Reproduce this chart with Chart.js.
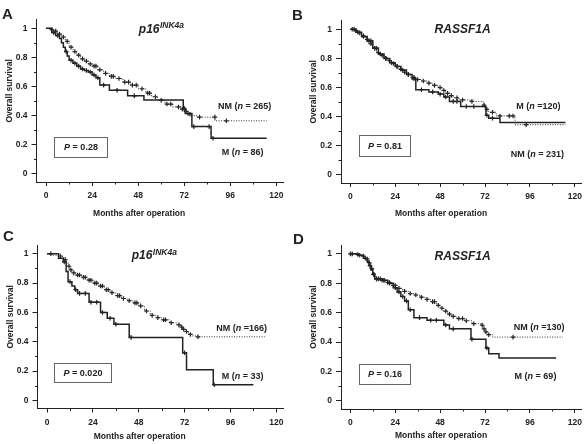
<!DOCTYPE html>
<html>
<head>
<meta charset="utf-8">
<title>Overall survival by methylation status</title>
<script src="https://cdn.jsdelivr.net/npm/chart.js@4.4.1/dist/chart.umd.min.js"></script>
<style>
  body { margin: 0; background: #fff; }
  #fig { position: relative; width: 587px; height: 444px; }
  #fig canvas { position: absolute; }
</style>
</head>
<body>
<div id="fig">
  <canvas id="pA" width="290" height="222" style="left:0;top:0"></canvas>
  <canvas id="pB" width="297" height="222" style="left:290px;top:0"></canvas>
  <canvas id="pC" width="290" height="222" style="left:0;top:222px"></canvas>
  <canvas id="pD" width="297" height="222" style="left:290px;top:222px"></canvas>
</div>
<script>
// ticks
const monthTicks = [0, 24, 48, 72, 96, 120];
const monthMinor = [12, 36, 60, 84, 108];
const survTicks = [0, 0.2, 0.4, 0.6, 0.8, 1];
const survMinor = [0.1, 0.3, 0.5, 0.7, 0.9];

// A - p16INK4a, all patients  [month, survival]
const aNM = [[0,1],[2,0.99],[4,0.98],[6,0.96],[8,0.94],[10,0.91],[12,0.87],[14,0.84],[16,0.815],[18,0.79],[20,0.775],[22,0.755],[24,0.74],[27,0.715],[30,0.69],[33,0.67],[36,0.655],[40,0.63],[44,0.61],[48,0.585],[52,0.555],[55,0.53],[58,0.505],[62,0.48],[66,0.46],[70,0.445],[72,0.43],[74,0.41],[76,0.4],[79,0.39],[88,0.365],[115,0.365]];
const aNMcens = [[3,0.99],[5,0.98],[7,0.96],[9,0.94],[11,0.91],[13,0.87],[15,0.84],[17,0.815],[19,0.79],[21,0.775],[23,0.755],[25,0.74],[26,0.74],[28,0.715],[31,0.69],[34,0.67],[35,0.67],[38,0.655],[41,0.63],[43,0.63],[45,0.61],[47,0.61],[50,0.585],[53,0.555],[54,0.555],[57,0.53],[60,0.505],[63,0.48],[65,0.48],[69,0.46],[71,0.445],[73,0.43],[75,0.41],[80,0.39],[88,0.39],[94,0.365]];
const aM = [[0,1],[3,0.97],[5,0.95],[7,0.93],[8,0.9],[9,0.87],[10,0.84],[11,0.81],[12,0.78],[14,0.76],[16,0.74],[18,0.72],[20,0.71],[22,0.7],[24,0.68],[26,0.66],[28,0.61],[33,0.575],[42.5,0.536],[51,0.507],[71.5,0.45],[72.5,0.415],[76,0.325],[86,0.245],[115,0.245]];
const aMcens = [[4,0.97],[6,0.95],[10.5,0.84],[13,0.78],[15,0.76],[17,0.74],[19,0.72],[21,0.71],[23,0.7],[25,0.68],[27,0.66],[30,0.61],[37,0.575],[46,0.536],[72,0.45],[74,0.415],[77,0.325],[85,0.325],[87,0.245]];

// B - RASSF1A, all patients
const bNM = [[0,1],[2,0.99],[4,0.975],[6,0.955],[8,0.93],[10,0.9],[12,0.87],[14,0.84],[16,0.82],[18,0.8],[20,0.785],[22,0.765],[24,0.745],[26,0.725],[28,0.705],[30,0.69],[32,0.67],[35,0.655],[38,0.645],[41,0.63],[44,0.615],[47,0.6],[49,0.58],[51,0.56],[53,0.545],[55,0.53],[58,0.515],[64,0.505],[71,0.48],[72,0.45],[74,0.43],[78,0.405],[88,0.345],[115,0.345]];
const bNMcens = [[1,1],[3,0.99],[5,0.975],[7,0.955],[9,0.93],[11,0.9],[13,0.87],[15,0.84],[17,0.82],[19,0.8],[21,0.785],[23,0.765],[25,0.745],[27,0.725],[29,0.705],[31,0.69],[34,0.67],[36,0.655],[39,0.645],[42,0.63],[45,0.615],[48,0.6],[50,0.58],[52,0.56],[54,0.545],[57,0.53],[60,0.515],[65,0.505],[71.5,0.48],[73,0.45],[76,0.43],[80,0.405],[85,0.405],[87,0.405],[94,0.345]];
const bM = [[0,1],[3,0.98],[6,0.95],[9,0.92],[12,0.87],[15,0.83],[18,0.8],[21,0.77],[24,0.745],[27,0.72],[30,0.69],[33,0.66],[35,0.585],[42,0.57],[47,0.555],[50,0.535],[53,0.505],[59,0.47],[72.5,0.41],[74,0.39],[80,0.36],[115,0.36]];
const bMcens = [[2,1],[4,0.98],[7,0.95],[10,0.92],[11,0.92],[13,0.87],[14,0.87],[16,0.83],[19,0.8],[22,0.77],[25,0.745],[28,0.72],[31,0.69],[34,0.66],[38,0.585],[44,0.57],[48,0.555],[51,0.535],[55,0.505],[57,0.505],[62,0.47],[66,0.47],[73,0.41],[76,0.39]];

// C - p16INK4a, stage subgroup
const cNM = [[0,1],[3,0.99],[6,0.985],[8,0.975],[9,0.96],[10,0.94],[11,0.915],[12,0.89],[13,0.87],[15,0.855],[18,0.84],[21,0.82],[24,0.8],[27,0.78],[30,0.755],[33,0.735],[36,0.715],[39,0.695],[42,0.68],[45,0.665],[48,0.645],[51,0.61],[54,0.58],[57,0.565],[60,0.55],[64,0.53],[68,0.515],[70,0.5],[71,0.485],[72,0.47],[74,0.45],[76,0.44],[79,0.434],[114,0.434]];
const cNMcens = [[7,0.985],[9.5,0.96],[11.5,0.915],[12.5,0.89],[14,0.87],[16,0.855],[17,0.855],[19,0.84],[20,0.84],[22,0.82],[23,0.82],[25,0.8],[26,0.8],[28,0.78],[29,0.78],[31,0.755],[32,0.755],[34,0.735],[37,0.715],[38,0.715],[40,0.695],[43,0.68],[46,0.665],[47,0.665],[49,0.645],[52,0.61],[55,0.58],[58,0.565],[61,0.55],[62,0.55],[65,0.53],[69,0.515],[70.5,0.5],[71.5,0.485],[73,0.47],[75,0.45],[79,0.434]];
const cM = [[0,1],[6,0.97],[8.5,0.945],[10,0.88],[11,0.81],[13,0.78],[14.5,0.755],[16,0.73],[22,0.67],[28,0.6],[31.5,0.56],[35,0.52],[43,0.43],[71,0.325],[73,0.21],[87,0.107],[108,0.107]];
const cMcens = [[2,1],[9,0.945],[12,0.81],[15,0.755],[17,0.73],[20,0.73],[23,0.67],[26,0.67],[29,0.6],[33,0.56],[36,0.52],[44,0.43],[72,0.325],[87.5,0.107]];

// D - RASSF1A, stage subgroup
const dNM = [[0,1],[3,0.995],[6,0.985],[8,0.965],[9.5,0.94],[11,0.9],[12,0.86],[13.5,0.83],[16,0.82],[19,0.805],[22,0.785],[25,0.765],[28,0.745],[31,0.73],[34,0.72],[37,0.705],[40,0.69],[43,0.675],[46,0.65],[48,0.63],[50,0.61],[52,0.59],[54,0.575],[57,0.56],[61,0.545],[65,0.525],[70,0.515],[71,0.49],[72,0.47],[73,0.45],[76,0.434],[113.5,0.434]];
const dNMcens = [[0,1],[1,1],[4,0.995],[7,0.985],[9,0.965],[10,0.94],[11.5,0.9],[12.5,0.86],[14,0.83],[15,0.83],[17,0.82],[18,0.82],[20,0.805],[21,0.805],[23,0.785],[24,0.785],[26,0.765],[29,0.745],[32,0.73],[35,0.72],[38,0.705],[41,0.69],[44,0.675],[45,0.675],[47,0.65],[49,0.63],[51,0.61],[53,0.59],[55,0.575],[58,0.56],[60,0.56],[62,0.545],[66,0.525],[70.5,0.515],[71.5,0.49],[72.5,0.47],[74,0.45],[87,0.434]];
const dM = [[0,1],[4,0.99],[7,0.97],[9,0.95],[10,0.92],[11,0.89],[12,0.86],[13,0.83],[17,0.82],[20,0.8],[23,0.77],[25,0.74],[27,0.71],[29,0.68],[31,0.62],[34,0.566],[41,0.548],[50,0.516],[53,0.49],[64.5,0.42],[72.5,0.36],[74,0.32],[79.5,0.292],[110,0.292]];
const dMcens = [[5,0.99],[8,0.97],[10.5,0.92],[12.5,0.86],[14,0.83],[16,0.83],[18,0.82],[21,0.8],[24,0.77],[26,0.74],[28,0.71],[30,0.68],[32,0.62],[37,0.566],[43,0.548],[46,0.548],[51,0.516],[55,0.49],[65,0.42],[73,0.36]];

const FONT = '"Liberation Sans", Arial, Helvetica, sans-serif';
const INK = '#222';

// panel layout: chart area inside each canvas, text anchors in data units
const panels = [
  { id: 'pA', letter: 'A', lx: 2, ly: 19, area: [36.5, 19.5, 283, 182], xtOff: 32,
    m: aM, mc: aMcens, nm: aNM, nmc: aNMcens,
    title: ['p16', 'INK4a'], titleAt: [60, 0.969],
    upper: 'NM (*n* = 265)', upperAt: [103.5, 0.46],
    lower: 'M (*n* = 86)', lowerAt: [102.5, 0.15],
    p: '*P* = 0.28', box: [4, 32, 0.255, 0.118] },
  { id: 'pB', letter: 'B', lx: 2, ly: 20, area: [51, 20.5, 294, 183], xtOff: 31,
    m: bM, mc: bMcens, nm: bNM, nmc: bNMcens,
    title: ['RASSF1A', ''], titleAt: [60, 0.973],
    upper: 'M (*n* =120)', upperAt: [100.5, 0.47],
    lower: 'NM (*n* = 231)', lowerAt: [100, 0.143],
    p: '*P* = 0.81', box: [4.7, 32, 0.272, 0.13] },
  { id: 'pC', letter: 'C', lx: 3, ly: 19, area: [37.5, 23, 283, 186.5], xtOff: 28,
    m: cM, mc: cMcens, nm: cNM, nmc: cNMcens,
    title: ['p16', 'INK4a'], titleAt: [56, 0.962],
    upper: 'NM (*n* =166)', upperAt: [101.8, 0.493],
    lower: 'M (*n* = 33)', lowerAt: [102.4, 0.164],
    p: '*P* = 0.020', box: [3.4, 33.4, 0.253, 0.123] },
  { id: 'pD', letter: 'D', lx: 3, ly: 22, area: [51, 23, 294, 187], xtOff: 27,
    m: dM, mc: dMcens, nm: dNM, nmc: dNMcens,
    title: ['RASSF1A', ''], titleAt: [60, 0.955],
    upper: 'NM (*n* =130)', upperAt: [101, 0.5],
    lower: 'M (*n* = 69)', lowerAt: [99, 0.164],
    p: '*P* = 0.16', box: [4.7, 32, 0.253, 0.116] }
];

function pts(arr) { return arr.map(([x, y]) => ({ x, y })); }

// text with *italic* pieces, centred on cx
function runs(ctx, str, cx, y, size) {
  const segs = str.split('*');
  const f = i => (i % 2 ? 'italic ' : '') + 'bold ' + size + 'px ' + FONT;
  let w = 0;
  segs.forEach((s, i) => { ctx.font = f(i); w += ctx.measureText(s).width; });
  let x = cx - w / 2;
  ctx.textAlign = 'left';
  segs.forEach((s, i) => { ctx.font = f(i); ctx.fillText(s, x, y); x += ctx.measureText(s).width; });
}

function notes(p) {
  return {
    id: 'notes',
    afterDraw(chart) {
      const { ctx, chartArea: a } = chart;
      const x = chart.scales.x, y = chart.scales.y;
      ctx.save();
      ctx.strokeStyle = INK;
      ctx.fillStyle = INK;
      ctx.lineWidth = 1;

      // minor ticks
      ctx.beginPath();
      monthMinor.forEach(v => {
        const px = Math.round(x.getPixelForValue(v)) + 0.5;
        ctx.moveTo(px, a.bottom); ctx.lineTo(px, a.bottom + 2.5);
      });
      survMinor.forEach(v => {
        const py = Math.round(y.getPixelForValue(v)) + 0.5;
        ctx.moveTo(a.left, py); ctx.lineTo(a.left - 2.5, py);
      });
      ctx.stroke();

      // panel letter
      ctx.textBaseline = 'alphabetic';
      ctx.textAlign = 'left';
      ctx.font = 'bold 15px ' + FONT;
      ctx.fillText(p.letter, p.lx, p.ly);

      // gene title
      const main = p.title[0], sup = p.title[1];
      ctx.font = 'italic bold 12px ' + FONT;
      const w1 = ctx.measureText(main).width;
      ctx.font = 'italic bold 8.5px ' + FONT;
      const w2 = sup ? ctx.measureText(sup).width : 0;
      let tx = x.getPixelForValue(p.titleAt[0]) - (w1 + w2) / 2;
      const ty = y.getPixelForValue(p.titleAt[1]);
      ctx.font = 'italic bold 12px ' + FONT;
      ctx.fillText(main, tx, ty);
      if (sup) {
        ctx.font = 'italic bold 8.5px ' + FONT;
        ctx.fillText(sup, tx + w1 + 0.5, ty - 4.5);
      }

      // group labels
      ctx.textBaseline = 'middle';
      runs(ctx, p.upper, x.getPixelForValue(p.upperAt[0]), y.getPixelForValue(p.upperAt[1]), 9);
      runs(ctx, p.lower, x.getPixelForValue(p.lowerAt[0]), y.getPixelForValue(p.lowerAt[1]), 9);

      // P value box
      const bx0 = Math.round(x.getPixelForValue(p.box[0])) + 0.5;
      const bx1 = Math.round(x.getPixelForValue(p.box[1])) + 0.5;
      const by0 = Math.round(y.getPixelForValue(p.box[2])) + 0.5;
      const by1 = Math.round(y.getPixelForValue(p.box[3])) + 0.5;
      ctx.strokeStyle = '#666';
      ctx.strokeRect(bx0, by0, bx1 - bx0, by1 - by0);
      runs(ctx, p.p, (bx0 + bx1) / 2, (by0 + by1) / 2 + 0.5, 9);

      // axis titles
      ctx.font = 'bold 8.5px ' + FONT;
      ctx.textAlign = 'center';
      ctx.fillText('Months after operation', x.getPixelForValue(48.5), a.bottom + p.xtOff);
      ctx.translate(a.left - 27, y.getPixelForValue(0.57));
      ctx.rotate(-Math.PI / 2);
      ctx.fillText('Overall survival', 0, 0);
      ctx.restore();
    }
  };
}

function draw(p) {
  const cv = document.getElementById(p.id);
  const W = cv.width, H = cv.height;
  const YW = 32, XH = 20;
  const [L, T, R, B] = p.area;
  const tickFont = { family: FONT, size: 8.5, weight: 'bold' };
  new Chart(cv, {
    type: 'line',
    data: {
      datasets: [
        { data: pts(p.m), stepped: true, borderColor: INK, borderWidth: 1.5, pointRadius: 0 },
        { data: pts(p.nm), stepped: true, borderColor: '#333', borderWidth: 1, borderDash: [1, 1.5], pointRadius: 0 },
        { data: pts(p.mc), showLine: false, pointStyle: 'cross', pointRadius: 2.3, borderColor: INK, borderWidth: 1.2 },
        { data: pts(p.nmc), showLine: false, pointStyle: 'cross', pointRadius: 2.3, borderColor: INK, borderWidth: 1.2 }
      ]
    },
    options: {
      responsive: false,
      animation: false,
      events: [],
      layout: { padding: { left: L - YW, top: T, right: W - R, bottom: H - B - XH } },
      plugins: { legend: { display: false }, tooltip: { enabled: false } },
      scales: {
        x: {
          type: 'linear', min: -5, max: 123.5,
          afterBuildTicks: s => { s.ticks = monthTicks.map(v => ({ value: v })); },
          afterFit: s => { s.height = XH; },
          ticks: { font: tickFont, color: INK, padding: 5, maxRotation: 0, autoSkip: false, callback: v => String(v) },
          grid: { drawOnChartArea: false, drawTicks: true, tickLength: 4, color: INK },
          border: { display: true, color: INK, width: 1 }
        },
        y: {
          type: 'linear', min: -0.055, max: 1.06,
          afterBuildTicks: s => { s.ticks = survTicks.map(v => ({ value: v })); },
          afterFit: s => { s.width = YW; },
          ticks: { font: tickFont, color: INK, padding: 4, autoSkip: false, callback: v => String(v) },
          grid: { drawOnChartArea: false, drawTicks: true, tickLength: 5, color: INK },
          border: { display: true, color: INK, width: 1 }
        }
      }
    },
    plugins: [notes(p)]
  });
}

panels.forEach(draw);
</script>
</body>
</html>
